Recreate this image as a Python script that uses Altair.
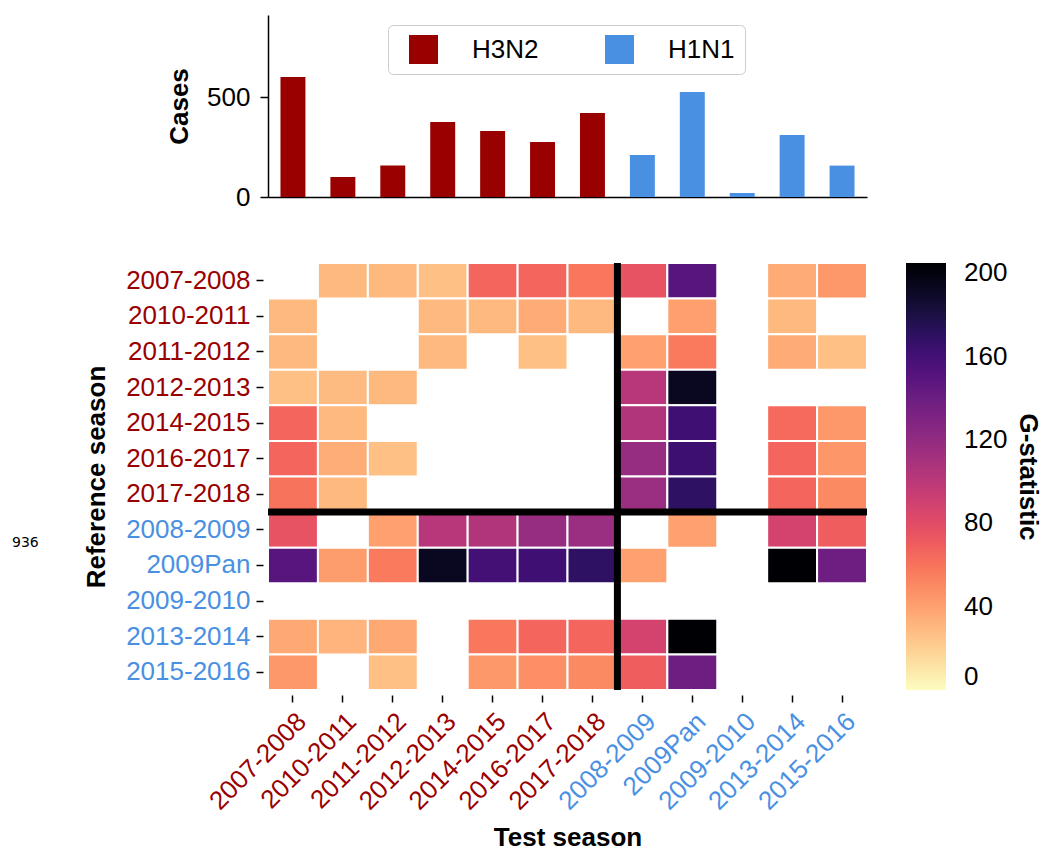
import altair as alt
import pandas as pd

seasons = ["2007-2008", "2010-2011", "2011-2012", "2012-2013", "2014-2015",
           "2016-2017", "2017-2018", "2008-2009", "2009Pan", "2009-2010",
           "2013-2014", "2015-2016"]
subtypes = ["H3N2"] * 7 + ["H1N1"] * 5
h1n1_seasons = seasons[7:]
cases = [600, 100, 157, 375, 330, 275, 420, 210, 525, 20, 310, 157]

N = None
# rows: reference season, columns: test season (same order as seasons)
g_2007_2008 = [N, 30, 30, 27, 66, 66, 58, 76, 150, N, 36, 44]
g_2010_2011 = [30, N, N, 30, 30, 36, 30, N, 41, N, 30, N]
g_2011_2012 = [30, N, N, 30, N, 27, N, 40, 57, N, 36, 27]
g_2012_2013 = [27, 29, 30, N, N, N, N, 102, 193, N, N, N]
g_2014_2015 = [66, 30, N, N, N, N, N, 105, 162, N, 64, 44]
g_2016_2017 = [66, 35, 27, N, N, N, N, 118, 163, N, 66, 45]
g_2017_2018 = [60, 30, N, N, N, N, N, 116, 170, N, 66, 50]
g_2008_2009 = [76, N, 40, 102, 105, 118, 116, N, 40, N, 88, 70]
g_2009pan = [150, 42, 57, 193, 160, 162, 170, 40, N, N, 205, 139]
g_2009_2010 = [N] * 12
g_2013_2014 = [37, 32, 37, N, 58, 66, 66, 88, 205, N, N, N]
g_2015_2016 = [44, N, 27, N, 44, 48, 50, 70, 139, N, N, N]
gstat = [g_2007_2008, g_2010_2011, g_2011_2012, g_2012_2013, g_2014_2015,
         g_2016_2017, g_2017_2018, g_2008_2009, g_2009pan, g_2009_2010,
         g_2013_2014, g_2015_2016]

RED = "#990000"
BLUE = "#4a90e2"
FONT = "Liberation Sans"
LBL = 26
TTL = 26

rows = []
for i, r in enumerate(seasons):
    for j, t in enumerate(seasons):
        v = gstat[i][j]
        if v is not None:
            rows.append({"ref": r, "test": t, "g": v})
hm_df = pd.DataFrame(rows)
bar_df = pd.DataFrame({"season": seasons, "cases": cases, "subtype": subtypes})

arr = "[" + ",".join("'" + s + "'" for s in h1n1_seasons) + "]"
label_color = {"condition": {"test": f"indexof({arr}, datum.value) >= 0", "value": BLUE},
               "value": RED}

W = 599
bars = alt.Chart(bar_df).mark_bar().encode(
    x=alt.X("season:N", sort=seasons,
            scale=alt.Scale(domain=seasons, paddingInner=0.5, paddingOuter=0.25),
            axis=alt.Axis(labels=False, ticks=False, title=None, domainColor="black",
                          domainWidth=1.5)),
    y=alt.Y("cases:Q", scale=alt.Scale(domain=[0, 910]),
            axis=alt.Axis(values=[0, 500], title="Cases", grid=False, domainColor="black",
                          domainWidth=1.5, tickColor="black", tickSize=8, tickWidth=1.5,
                          labelFontSize=LBL, labelColor="black", titleFontSize=TTL,
                          titleFontWeight="bold", titleColor="black", titlePadding=14,
                          labelPadding=10)),
    color=alt.Color("subtype:N", scale=alt.Scale(domain=["H3N2", "H1N1"], range=[RED, BLUE]),
                    legend=alt.Legend(title=None, orient="none", legendX=120, legendY=10,
                                      direction="horizontal", symbolType="square",
                                      symbolSize=841, symbolStrokeWidth=0,
                                      symbolOffset=11,
                                      labelFontSize=LBL, labelColor="black",
                                      labelOffset=34, columnPadding=55,
                                      strokeColor="#cccccc", cornerRadius=5,
                                      fillColor="white", padding=10)),
).properties(width=W, height=182)

H = 427
rect = alt.Chart(hm_df).mark_rect(stroke="white", strokeWidth=2).encode(
    x=alt.X("test:N", scale=alt.Scale(domain=seasons, paddingInner=0, paddingOuter=0),
            axis=alt.Axis(title="Test season", labelAngle=315, labelFontSize=LBL,
                          labelColor=label_color, domain=False, tickColor="black",
                          tickSize=7, tickWidth=1.5, offset=5, labelPadding=6,
                          titleFontSize=TTL, titleFontWeight="bold", titleColor="black",
                          titlePadding=10)),
    y=alt.Y("ref:N", scale=alt.Scale(domain=seasons, paddingInner=0, paddingOuter=0),
            axis=alt.Axis(title="Reference season", labelFontSize=LBL,
                          labelColor=label_color, domain=False, tickColor="black",
                          tickSize=7, tickWidth=1.5, offset=5, labelPadding=6,
                          titleFontSize=TTL, titleFontWeight="bold", titleColor="black",
                          titlePadding=16)),
    color=alt.Color("g:Q", scale=alt.Scale(scheme="magma", reverse=True, domain=[0, 205]),
                    legend=alt.Legend(title="G-statistic", orient="none", legendX=638,
                                      legendY=0, gradientLength=427, gradientThickness=40,
                                      values=[0, 40, 80, 120, 160, 200],
                                      labelFontSize=LBL, labelColor="black", labelOffset=18,
                                      titleOrient="right",
                                      titleFontSize=TTL, titleFontWeight="bold",
                                      titleColor="black", titleAnchor="middle",
                                      titlePadding=8, padding=0,
                                      gradientStrokeWidth=0)),
)

hline = alt.Chart(pd.DataFrame({"ref": [seasons[6]]})).mark_rule(
    color="black", strokeWidth=7).encode(
    y=alt.Y("ref:N", bandPosition=1, scale=alt.Scale(domain=seasons)))
vline = alt.Chart(pd.DataFrame({"test": [seasons[6]]})).mark_rule(
    color="black", strokeWidth=7).encode(
    x=alt.X("test:N", bandPosition=1, scale=alt.Scale(domain=seasons)))
note = alt.Chart(pd.DataFrame({"t": ["936"]})).mark_text(
    fontSize=14, font="DejaVu Sans", align="left", baseline="middle", color="black").encode(
    text="t:N", x=alt.value(-256), y=alt.value(280))

heat = alt.layer(rect, hline, vline, note).properties(width=W, height=H)

chart = alt.vconcat(bars, heat, spacing=49).resolve_scale(
    color="independent", x="independent"
).properties(
    padding={"left": 12, "top": 15, "right": 0, "bottom": 3}
).configure(font=FONT, view=alt.ViewConfig(stroke=None))

chart.save("out.html", embed_options={"renderer": "svg", "actions": False})
